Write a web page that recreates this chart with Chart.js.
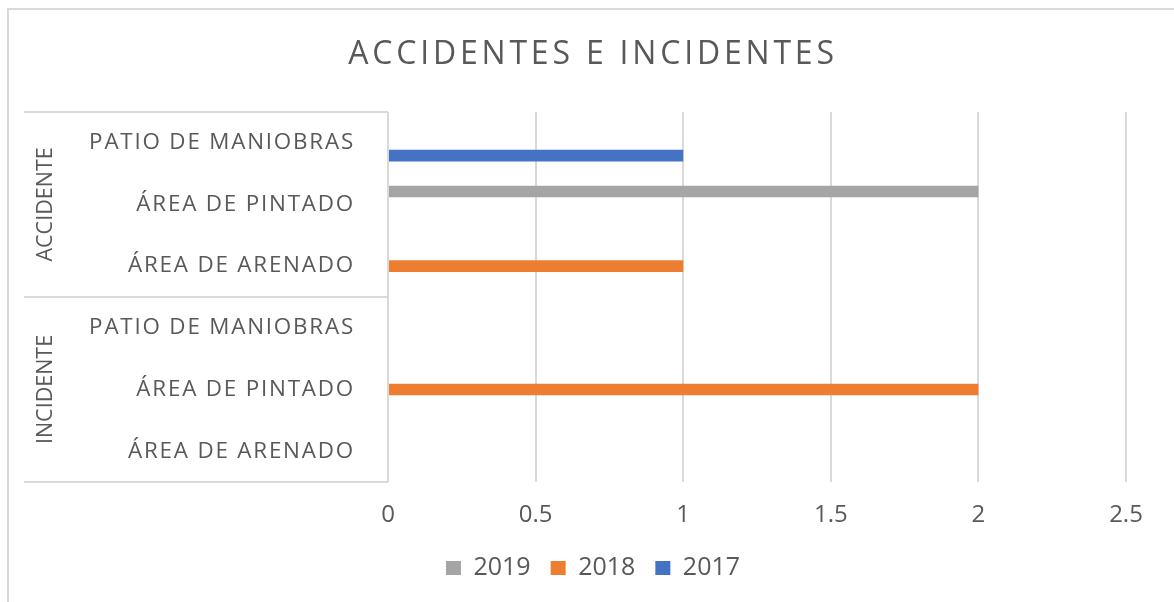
<!DOCTYPE html>
<html>
<head>
<meta charset="utf-8">
<script src="https://cdn.jsdelivr.net/npm/chart.js@4"></script>
<style>
    html, body { margin: 0; padding: 0; background: #ffffff; overflow: hidden; }
    #frame { position: absolute; left: 7px; top: 8px; width: 1180px; height: 610px; border: 2px solid #d9d9d9; }
    #wrap { position: absolute; left: 0; top: 0; width: 1174px; height: 602px; }
</style>
</head>
<body>
<div id="frame"></div>
<div id="wrap"><canvas id="accidentChart"></canvas></div>
<script>

const GROUPS = ["ACCIDENTE", "INCIDENTE"];

const AREAS = ["PATIO DE MANIOBRAS", "ÁREA DE PINTADO", "ÁREA DE ARENADO"];

const CATEGORIES = [
    "PATIO DE MANIOBRAS", "ÁREA DE PINTADO", "ÁREA DE ARENADO",
    "PATIO DE MANIOBRAS", "ÁREA DE PINTADO", "ÁREA DE ARENADO"
];

const VALUES_2019 = [0, 2, 0, 0, 0, 0];
const VALUES_2018 = [0, 0, 1, 0, 2, 0];
const VALUES_2017 = [1, 0, 0, 0, 0, 0];

const X_TICKS = [0, 0.5, 1, 1.5, 2, 2.5];

const TEXT = "#595959";
const LINE = "#d9d9d9";
const FONT = "'Open Sans', 'Noto Sans', sans-serif";

// the original font is wider than Open Sans, so spread the letters a bit
function widen(obj, method, spacing) {

    if (obj["_plain_" + method])
        return;

    const plain = obj[method];
    obj["_plain_" + method] = plain;

    obj[method] = function (...args) {
        const ctx = this.ctx;
        ctx.save();
        ctx.letterSpacing = spacing;
        plain.apply(this, args);
        ctx.restore();
    };

}

const letterSpacing = {

    id: "letterSpacing",

    afterLayout(chart) {
        widen(chart.titleBlock, "draw", "3.8px");
        widen(chart.scales.y, "drawLabels", "1.8px");
    }

};

// group labels on the left with their divider lines
const groupAxis = {

    id: "groupAxis",

    afterDraw(chart) {

        const ctx = chart.ctx;
        const y = chart.scales.y;
        const area = chart.chartArea;
        const per = AREAS.length;
        const step = (area.bottom - area.top) / CATEGORIES.length;

        ctx.save();
        ctx.strokeStyle = LINE;
        ctx.lineWidth = 2;

        for (let g = 0; g <= GROUPS.length; g++) {

            const py = Math.round(y.getPixelForValue(g * per) - step / 2);

            ctx.beginPath();
            ctx.moveTo(24, py);
            ctx.lineTo(area.left, py);
            ctx.stroke();

        }

        ctx.fillStyle = TEXT;
        ctx.font = "21.5px " + FONT;
        ctx.textAlign = "center";
        ctx.textBaseline = "middle";

        GROUPS.forEach((name, g) => {

            const top = y.getPixelForValue(g * per) - step / 2;
            const mid = top + step * per / 2;

            ctx.save();
            ctx.translate(46, mid);
            ctx.rotate(-Math.PI / 2);
            ctx.fillText(name, 0, 0);
            ctx.restore();

        });

        ctx.restore();

    }

};

new Chart(document.getElementById("accidentChart"), {

    type: "bar",

    data: {

        labels: CATEGORIES,

        datasets: [
            { label: "2019", data: VALUES_2019, backgroundColor: "#a5a5a5" },
            { label: "2018", data: VALUES_2018, backgroundColor: "#ed7d31" },
            { label: "2017", data: VALUES_2017, backgroundColor: "#4472c4" }
        ]

    },

    options: {

        indexAxis: "y",

        responsive: true,

        maintainAspectRatio: false,

        animation: false,

        categoryPercentage: 0.625,

        barPercentage: 0.9,

        layout: {
            padding: { left: 60, right: 48, top: 0, bottom: 11.5 }
        },

        plugins: {

            title: {
                display: true,
                text: "ACCIDENTES E INCIDENTES",
                color: TEXT,
                font: { family: FONT, size: 32, weight: "normal" },
                padding: { top: 36, bottom: 37.5 }
            },

            legend: {
                position: "bottom",
                labels: {
                    color: TEXT,
                    font: { family: FONT, size: 25 },
                    boxWidth: 15,
                    boxHeight: 14,
                    padding: 20
                }
            },

            tooltip: { enabled: false }

        },

        scales: {

            x: {
                min: 0,
                max: 2.5,
                afterBuildTicks: scale => {
                    scale.ticks = X_TICKS.map(v => ({ value: v }));
                },
                afterFit: scale => {
                    scale.height = 53.5;
                },
                ticks: {
                    color: TEXT,
                    font: { family: FONT, size: 24 },
                    padding: 19,
                    callback: value => String(value)
                },
                grid: {
                    color: LINE,
                    lineWidth: 2,
                    drawTicks: false
                },
                border: { display: false }
            },

            y: {
                afterFit: scale => {
                    scale.width = 328;
                },
                ticks: {
                    color: TEXT,
                    font: { family: FONT, size: 22.4 },
                    padding: 25
                },
                grid: { display: false },
                border: { display: false }
            }

        }

    },

    plugins: [letterSpacing, groupAxis]

});

</script>
</body>
</html>
